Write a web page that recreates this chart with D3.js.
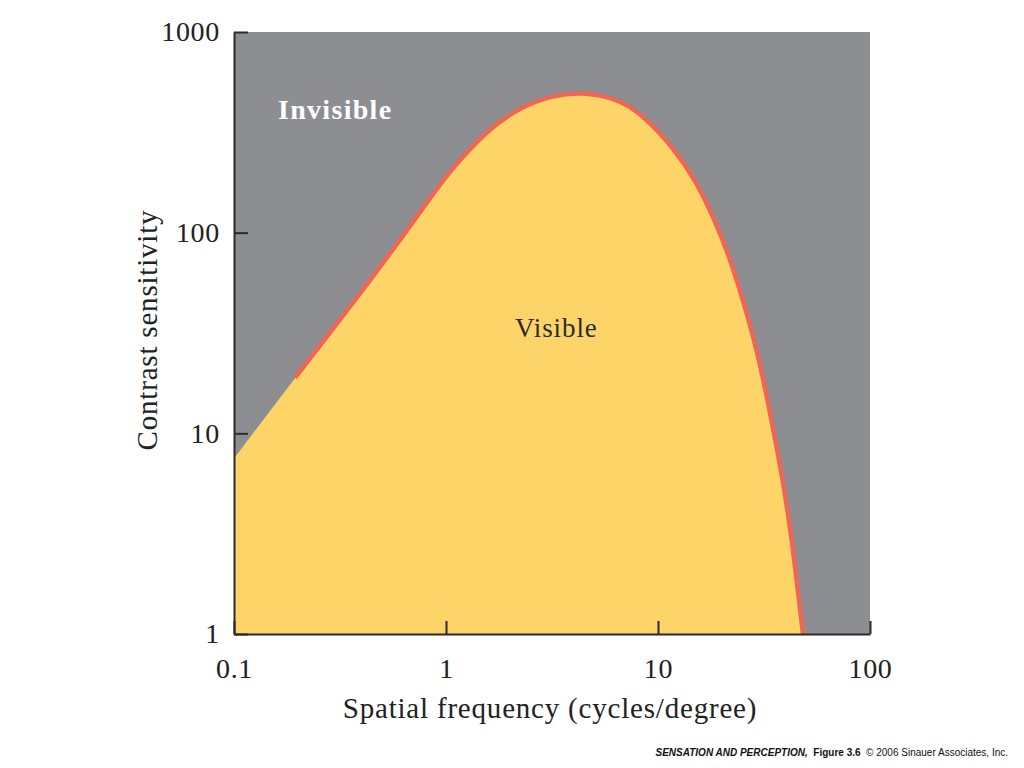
<!DOCTYPE html>
<html>
<head>
<meta charset="utf-8">
<script src="https://cdn.jsdelivr.net/npm/d3@7"></script>
<style>
  html, body { margin: 0; padding: 0; background: #ffffff; }
  svg { display: block; }
</style>
</head>
<body>
<svg id="chart" width="1024" height="768"></svg>
<script>
// Spatial frequency (cycles/degree)
const frequency = [0.1, 0.194, 0.521, 0.84, 1.08, 1.56, 2.23, 3.2, 4.43, 6.26, 8.22, 11.8, 15.3, 18.2, 21.9, 29.3, 33.8, 38.9, 43.3, 48.3];
// Contrast sensitivity threshold
const sensitivity = [7.5, 18.9, 73, 149, 212, 324, 422, 485, 502, 468, 400, 267, 177, 120, 75.6, 26.9, 12.6, 5.85, 2.71, 1];
// index where the red boundary line starts
const lineStartIndex = 1;

const xTicks = [0.1, 1, 10, 100];
const xTickLabels = ["0.1", "1", "10", "100"];
const yTicks = [1, 10, 100, 1000];
const yTickLabels = ["1", "10", "100", "1000"];

const xTitle = "Spatial frequency (cycles/degree)";
const yTitle = "Contrast sensitivity";
const regionLabels = ["Invisible", "Visible"];

const data = frequency.map((f, i) => ({ f, s: sensitivity[i] }));

const svg = d3.select("#chart");
const plotLeft = 234, plotRight = 870, plotTop = 32, plotBottom = 634;

const x = d3.scaleLog().domain([0.1, 100]).range([plotLeft, plotRight]);
const y = d3.scaleLog().domain([1, 1000]).range([plotBottom, plotTop]);

const gray = "#8d8e92", yellow = "#fdd467", red = "#ee6655", axisColor = "#2b2b2b";
const serif = "'Liberation Serif', 'DejaVu Serif', serif";

// background (invisible region)
svg.append("rect")
  .attr("x", plotLeft).attr("y", plotTop)
  .attr("width", plotRight - plotLeft).attr("height", plotBottom - plotTop)
  .attr("fill", gray);

const curve = d3.curveBasis;

// visible region
const area = d3.area()
  .x(d => x(d.f))
  .y0(y(1))
  .y1(d => y(d.s))
  .curve(curve);

svg.append("path")
  .datum(data)
  .attr("d", area)
  .attr("fill", yellow);

// red threshold line
const line = d3.line()
  .x(d => x(d.f))
  .y(d => y(d.s))
  .curve(curve);

const lineData = data.slice(lineStartIndex);
svg.append("path")
  .datum(lineData)
  .attr("d", line)
  .attr("fill", "none")
  .attr("stroke", red)
  .attr("stroke-width", 4.5)
  .attr("stroke-linecap", "butt");

// axes
const xAxis = d3.axisBottom(x)
  .tickValues(xTicks)
  .tickFormat((d, i) => xTickLabels[i])
  .tickSizeInner(-13)
  .tickSizeOuter(0)
  .tickPadding(24);

const gx = svg.append("g")
  .attr("transform", `translate(0,${plotBottom})`)
  .call(xAxis);
gx.select(".domain").attr("stroke", axisColor).attr("stroke-width", 2);
gx.selectAll(".tick line").attr("stroke", axisColor).attr("stroke-width", 2);
gx.selectAll(".tick text")
  .attr("font-family", serif)
  .attr("font-size", 28)
  .attr("letter-spacing", 0.7)
  .attr("fill", "#222");

const yAxis = d3.axisLeft(y)
  .tickValues(yTicks)
  .tickFormat((d, i) => yTickLabels[i])
  .tickSizeInner(-14)
  .tickSizeOuter(0)
  .tickPadding(14);

const gy = svg.append("g")
  .attr("transform", `translate(${plotLeft},0)`)
  .call(yAxis);
gy.select(".domain").attr("stroke", axisColor).attr("stroke-width", 2);
gy.selectAll(".tick line").attr("stroke", axisColor).attr("stroke-width", 2);
gy.selectAll(".tick text")
  .attr("font-family", serif)
  .attr("font-size", 28)
  .attr("letter-spacing", 0.7)
  .attr("fill", "#222");

// axis titles
svg.append("text")
  .attr("x", 550).attr("y", 718)
  .attr("text-anchor", "middle")
  .attr("font-family", serif)
  .attr("font-size", 29)
  .attr("letter-spacing", 0.8)
  .attr("fill", "#222")
  .text(xTitle);

svg.append("text")
  .attr("transform", "translate(157,330) rotate(-90)")
  .attr("text-anchor", "middle")
  .attr("font-family", serif)
  .attr("font-size", 29)
  .attr("letter-spacing", 0.8)
  .attr("fill", "#222")
  .text(yTitle);

// region labels
svg.append("text")
  .attr("x", 278).attr("y", 119)
  .attr("font-family", serif)
  .attr("font-size", 28)
  .attr("letter-spacing", 1.3)
  .attr("font-weight", "bold")
  .attr("fill", "#ffffff")
  .text(regionLabels[0]);

svg.append("text")
  .attr("x", 515).attr("y", 337)
  .attr("font-family", serif)
  .attr("font-size", 27)
  .attr("letter-spacing", 0.9)
  .attr("fill", "#2a2a2a")
  .text(regionLabels[1]);

// credit line
const credit = svg.append("text")
  .attr("x", 1008).attr("y", 756)
  .attr("text-anchor", "end")
  .attr("font-family", "'Liberation Sans', Arial, sans-serif")
  .attr("font-size", 10)
  .attr("fill", "#111");
credit.append("tspan").attr("font-weight", "bold").attr("font-style", "italic").text("SENSATION AND PERCEPTION,");
credit.append("tspan").attr("font-weight", "bold").text("\u00a0 Figure 3.6");
credit.append("tspan").text("\u00a0 \u00a9 2006 Sinauer Associates, Inc.");
</script>
</body>
</html>
